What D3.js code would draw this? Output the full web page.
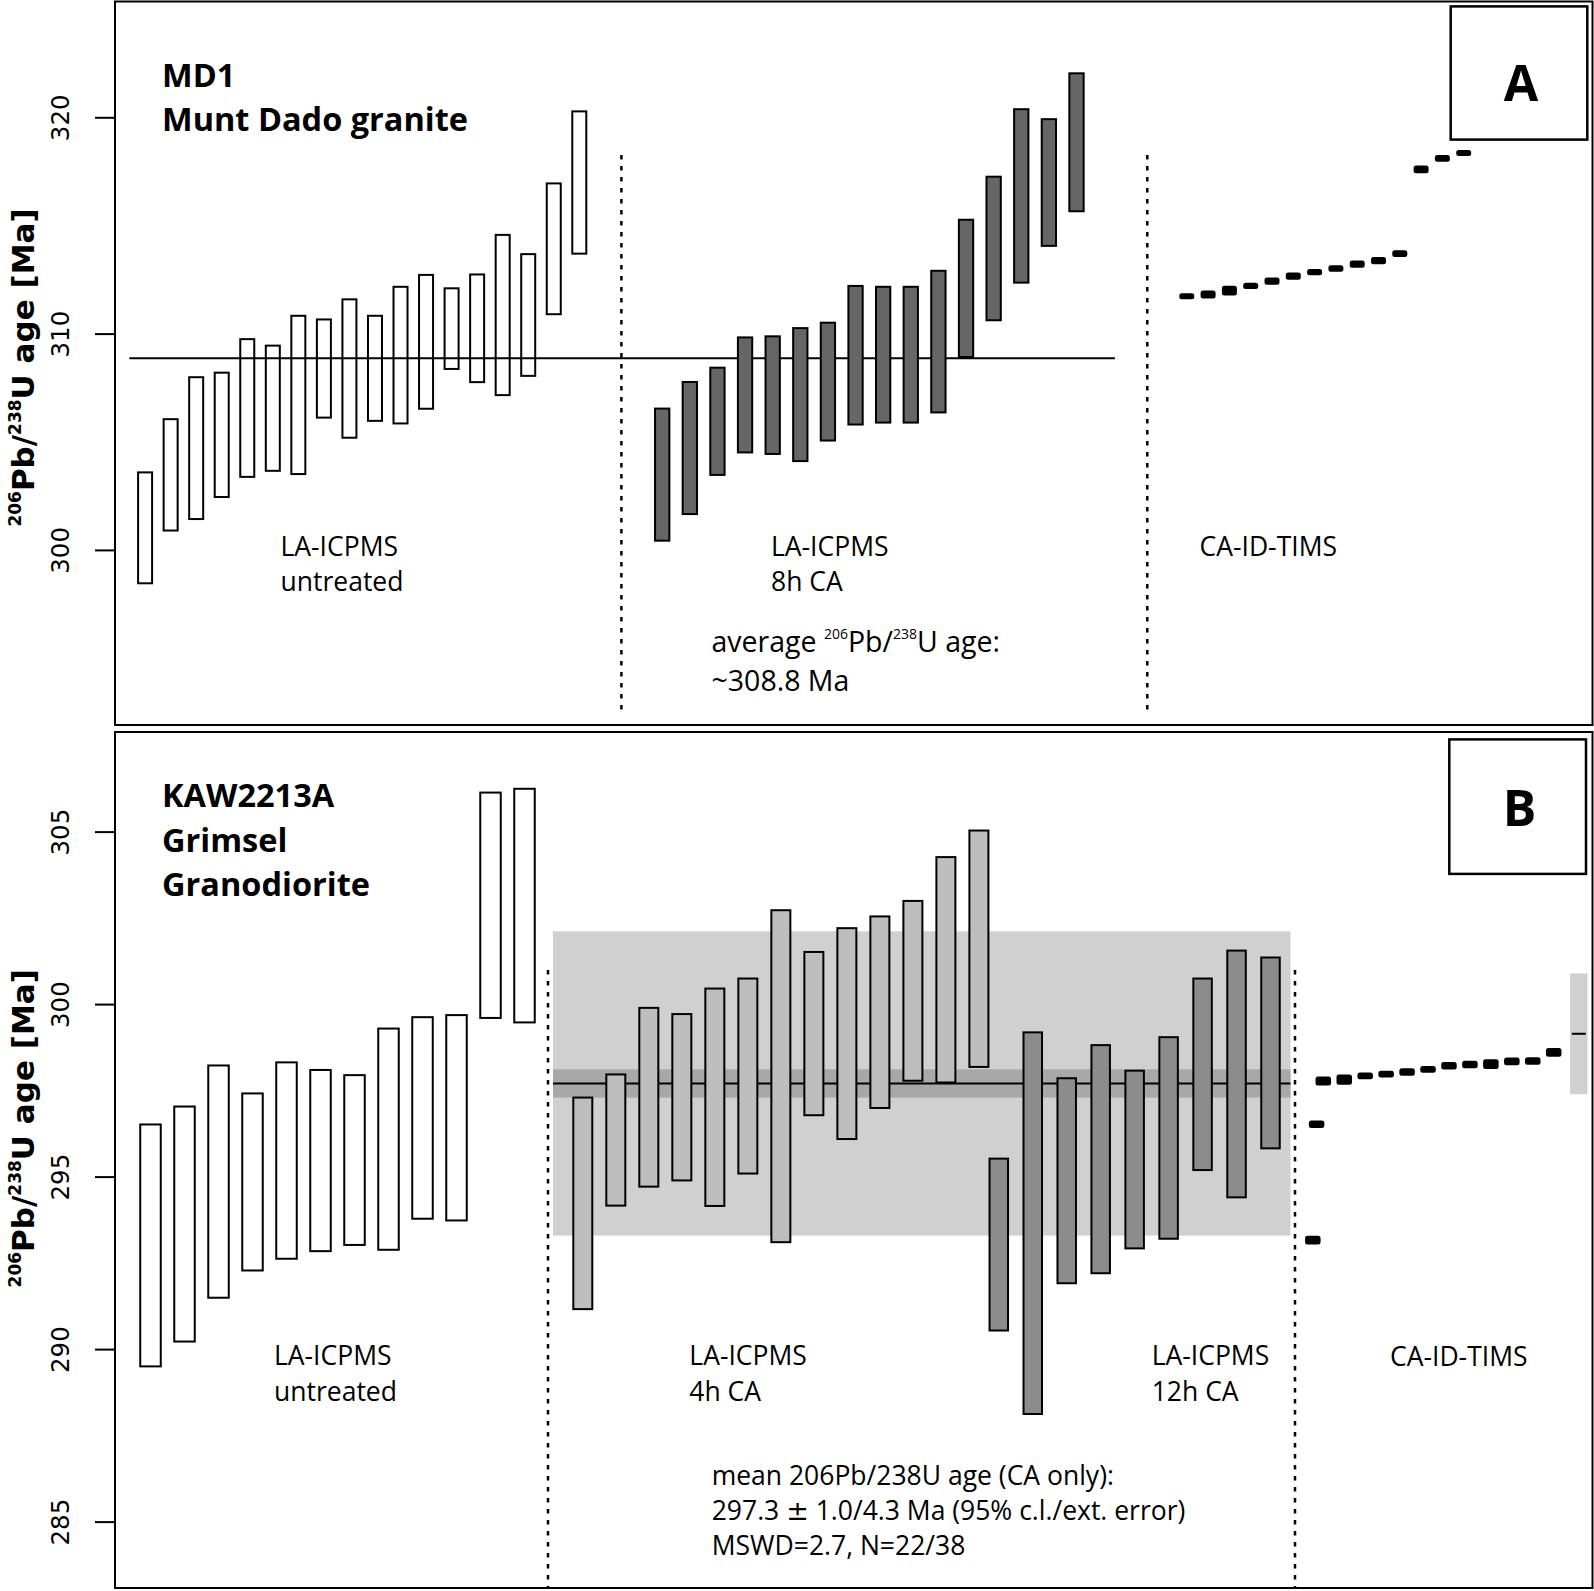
<!DOCTYPE html>
<html>
<head>
<meta charset="utf-8">
<script src="https://cdn.jsdelivr.net/npm/d3@7"></script>
<style>
  body { margin: 0; background: #fff; }
  svg { display: block; }
</style>
</head>
<body>
<svg id="chart" width="1594" height="1591"></svg>
<script>
// ================= DATA (ages in Ma) =================
// Panel A – MD1 Munt Dado granite
const aYTicks = [300, 310, 320];
const aUntreated = [[298.41,303.63],[300.85,306.09],[301.38,308.03],[302.40,308.24],[303.33,309.79],[303.61,309.49],
  [303.46,310.87],[306.07,310.70],[305.14,311.63],[305.92,310.87],[305.80,312.21],[306.48,312.76],
  [308.32,312.14],[307.71,312.78],[307.11,314.61],[308.00,313.72],[310.85,316.99],[313.65,320.32]];
const a8hCA = [[300.38,306.58],[301.61,307.81],[303.42,308.47],[304.46,309.87],[304.39,309.92],[304.06,310.30],
  [305.01,310.55],[305.75,312.25],[305.84,312.21],[305.84,312.21],[306.31,312.95],[308.87,315.31],
  [310.57,317.30],[312.31,320.42],[314.01,319.96],[315.61,322.08]];
const aTims = [311.73,311.81,311.99,312.21,312.43,312.66,312.84,313.01,313.21,313.37,313.70,317.59,318.10,318.35];
const aTimsErr = [0.09,0.14,0.18,0.10,0.12,0.12,0.10,0.10,0.12,0.12,0.11,0.13,0.11,0.09];
const aAverage = 308.86;

// Panel B – KAW2213A Grimsel Granodiorite
const bYTicks = [285, 290, 295, 300, 305];
const bUntreated = [[289.47,296.54],[290.19,297.06],[291.46,298.25],[292.25,297.44],[292.59,298.34],[292.81,298.12],
  [292.99,297.97],[292.85,299.32],[293.75,299.65],[293.70,299.71],[299.57,306.16],[299.44,306.27]];
const b4hCA = [[291.13,297.32],[294.13,297.99],[294.68,299.92],[294.86,299.74],[294.12,300.48],[295.06,300.77],
  [293.07,302.75],[296.75,301.54],[296.06,302.23],[296.96,302.57],[297.75,303.02],[297.70,304.29],[298.15,305.06]];
const b12hCA = [[290.51,295.55],[288.09,299.21],[291.88,297.88],[292.17,298.84],[292.89,298.10],[293.17,299.07],
  [295.16,300.77],[294.37,301.58],[295.79,301.38]];
const bTims = [293.16,296.52,297.77,297.81,297.92,297.97,298.03,298.11,298.21,298.25,298.26,298.34,298.35,298.60];
const bTimsErr = [0.10,0.08,0.10,0.12,0.07,0.07,0.08,0.07,0.08,0.08,0.11,0.08,0.08,0.10];
const bTimsSlot = [-0.5,-0.32,0,1,2,3,4,5,6,7,8,9,10,11];
const bMean = 297.70, bMeanInner = 0.41, bMeanOuter = 4.41;
const bTimsMean = 299.14, bTimsMeanErr = 1.75;

// ================= LAYOUT =================
const svg = d3.select("#chart");
const panelA = {x0: 115, x1: 1592.5, y0: 1.5, y1: 725};
const panelB = {x0: 115, x1: 1592.5, y0: 732, y1: 1588};
const yA = d3.scaleLinear().domain([300, 320]).range([549.9, 117.3]);
const yB = d3.scaleLinear().domain([285, 305]).range([1521.6, 831.6]);
const seq = (n, a, b) => d3.scaleLinear().domain([0, n - 1]).range([a, b]);

const LABEL_FONT = "'Open Sans', 'Noto Sans', sans-serif";
const AXIS_FONT = "'DejaVu Sans', sans-serif";

function bars(data, xs, y, w, fill) {
  svg.append("g").selectAll("rect").data(data).join("rect")
    .attr("x", (d, i) => xs(i) - w / 2)
    .attr("y", d => y(d[1]) + 1)
    .attr("width", w)
    .attr("height", d => y(d[0]) - y(d[1]) - 2)
    .attr("fill", fill)
    .attr("stroke", "#000")
    .attr("stroke-width", 2);
}
function dashes(vals, errs, xf, y, w) {
  svg.append("g").selectAll("rect").data(vals).join("rect")
    .attr("x", (d, i) => xf(i) - w / 2)
    .attr("y", (d, i) => y(d + errs[i]))
    .attr("width", w)
    .attr("height", (d, i) => Math.max(1, y(d - errs[i]) - y(d + errs[i])))
    .attr("rx", 1.5)
    .attr("fill", "#000")
    .attr("stroke", "#000")
    .attr("stroke-width", 2);
}
function vDotted(x, ya, yb) {
  svg.append("line").attr("x1", x).attr("x2", x).attr("y1", ya).attr("y2", yb)
    .attr("stroke", "#000").attr("stroke-width", 2.5).attr("stroke-dasharray", "4.5,6.5");
}
function hLine(xa, xb, yv, w) {
  svg.append("line").attr("x1", xa).attr("x2", xb).attr("y1", yv).attr("y2", yv)
    .attr("stroke", "#000").attr("stroke-width", w || 2);
}
// each line is its own <text> element
function lines(x, y0, arr, size, weight, lh) {
  arr.forEach((s, i) => {
    svg.append("text").attr("x", x).attr("y", y0 + i * lh)
      .attr("font-family", LABEL_FONT).attr("font-size", size)
      .attr("font-weight", weight || "normal").attr("fill", "#000").text(s);
  });
}
function axis(y, ticks, x0) {
  const g = svg.append("g").attr("transform", `translate(${x0},0)`)
    .call(d3.axisLeft(y).tickValues(ticks).tickSize(20).tickFormat(d3.format("d")));
  g.select(".domain").remove();
  g.attr("font-family", AXIS_FONT).attr("font-size", 24.5);
  g.selectAll(".tick line").attr("stroke", "#000").attr("stroke-width", 2);
  g.selectAll(".tick text").attr("x", 0).attr("dy", 0).attr("fill", "#000")
    .attr("text-anchor", "middle").attr("transform", "translate(-46,0) rotate(-90)");
}
function yTitle(cx, cy) {
  const t = svg.append("text").attr("transform", `translate(${cx},${cy}) rotate(-90)`)
    .attr("text-anchor", "middle").attr("font-family", AXIS_FONT).attr("font-weight", "bold")
    .attr("font-size", 31).attr("fill", "#000");
  t.append("tspan").attr("font-size", 17).attr("dy", -13).text("206");
  t.append("tspan").attr("dy", 13).text("Pb/");
  t.append("tspan").attr("font-size", 17).attr("dy", -13).text("238");
  t.append("tspan").attr("dy", 13).text("U age [Ma]");
}
function box(p) {
  svg.append("rect").attr("x", p.x0).attr("y", p.y0).attr("width", p.x1 - p.x0).attr("height", p.y1 - p.y0)
    .attr("fill", "none").attr("stroke", "#000").attr("stroke-width", 2);
}
function letterBox(x0, y0, x1, y1, letter, baseline) {
  svg.append("rect").attr("x", x0).attr("y", y0).attr("width", x1 - x0).attr("height", y1 - y0)
    .attr("fill", "#fff").attr("stroke", "#000").attr("stroke-width", 2.5);
  svg.append("text").attr("x", (x0 + x1) / 2 + 2).attr("y", baseline).attr("text-anchor", "middle")
    .attr("font-family", LABEL_FONT).attr("font-weight", "bold").attr("font-size", 50).text(letter);
}

// ================= PANEL A =================
hLine(129.3, 1114.9, yA(aAverage), 2);
bars(aUntreated, seq(aUntreated.length, 145.1, 579.3), yA, 14, "none");
bars(a8hCA, seq(a8hCA.length, 662.2, 1076.5), yA, 14.3, "#666666");
dashes(aTims, aTimsErr, seq(aTims.length, 1186.8, 1463.7), yA, 13);
vDotted(621.4, 155, 716);
vDotted(1147.3, 155, 716);
box(panelA);
axis(yA, aYTicks, panelA.x0);
yTitle(33.5, 367.5);
letterBox(1450.7, 6.4, 1587.3, 139.6, "A", 101);

lines(162, 87, ["MD1", "Munt Dado granite"], 32.5, "bold", 44);
lines(280.5, 556, ["LA-ICPMS", "untreated"], 26.5, "normal", 35);
lines(771, 556, ["LA-ICPMS", "8h CA"], 26.5, "normal", 35);
lines(1199.5, 556, ["CA-ID-TIMS"], 26.5, "normal", 35);
{
  const t = svg.append("text").attr("x", 711.5).attr("y", 651.5)
    .attr("font-family", LABEL_FONT).attr("font-size", 28.5).attr("fill", "#000");
  t.append("tspan").text("average ");
  t.append("tspan").attr("font-size", 14).attr("dy", -12.5).text("206");
  t.append("tspan").attr("dy", 12.5).text("Pb/");
  t.append("tspan").attr("font-size", 14).attr("dy", -12.5).text("238");
  t.append("tspan").attr("dy", 12.5).text("U age:");
  svg.append("text").attr("x", 711.5).attr("y", 690.5)
    .attr("font-family", LABEL_FONT).attr("font-size", 28.5).attr("fill", "#000").text("~308.8 Ma");
}

// ================= PANEL B =================
const bandX0 = 553, bandX1 = 1290.5;
svg.append("rect").attr("x", bandX0).attr("width", bandX1 - bandX0)
  .attr("y", yB(bMean + bMeanOuter)).attr("height", yB(bMean - bMeanOuter) - yB(bMean + bMeanOuter))
  .attr("fill", "#d0d0d0");
svg.append("rect").attr("x", bandX0).attr("width", bandX1 - bandX0)
  .attr("y", yB(bMean + bMeanInner)).attr("height", yB(bMean - bMeanInner) - yB(bMean + bMeanInner))
  .attr("fill", "#a8a8a8");
hLine(bandX0, bandX1, yB(bMean), 2);

bars(bUntreated, seq(bUntreated.length, 150.5, 524.5), yB, 20.5, "none");
bars(b4hCA, seq(b4hCA.length, 582.8, 978.9), yB, 19, "#bebebe");
bars(b12hCA, seq(b12hCA.length, 998.8, 1270.5), yB, 18.5, "#8c8c8c");
{
  const xt = d3.scaleLinear().domain([0, 11]).range([1323.3, 1553.7]);
  dashes(bTims, bTimsErr, i => xt(bTimsSlot[i]), yB, 13.5);
  const bx = xt(12.2);
  svg.append("rect").attr("x", bx - 8.7).attr("width", 17.4)
    .attr("y", yB(bTimsMean + bTimsMeanErr)).attr("height", yB(bTimsMean - bTimsMeanErr) - yB(bTimsMean + bTimsMeanErr))
    .attr("fill", "#d0d0d0");
  hLine(bx - 7, bx + 7, yB(bTimsMean), 2);
}
vDotted(548, 970, 1587);
vDotted(1295, 970, 1587);
box(panelB);
axis(yB, bYTicks, panelB.x0);
yTitle(33.5, 1128.3);
letterBox(1449.3, 739.4, 1586, 873.9, "B", 825.5);

lines(162, 807, ["KAW2213A", "Grimsel", "Granodiorite"], 32.5, "bold", 44.7);
lines(274, 1364.5, ["LA-ICPMS", "untreated"], 26.5, "normal", 36);
lines(689.3, 1364.5, ["LA-ICPMS", "4h CA"], 26.5, "normal", 36);
lines(1151.7, 1364.5, ["LA-ICPMS", "12h CA"], 26.5, "normal", 36);
lines(1390, 1365.5, ["CA-ID-TIMS"], 26.5, "normal", 36);
lines(711.7, 1485, ["mean 206Pb/238U age (CA only):"], 26.5, "normal", 34.8);
{
  const t = svg.append("text").attr("x", 711.7).attr("y", 1485 + 34.8)
    .attr("font-family", LABEL_FONT).attr("font-size", 26.5).attr("fill", "#000");
  t.append("tspan").text("297.3 ");
  t.append("tspan").attr("font-family", AXIS_FONT).attr("font-size", 27).text("\u00b1");
  t.append("tspan").text(" 1.0/4.3 Ma (95% c.l./ext. error)");
}
lines(711.7, 1485 + 2 * 34.8, ["MSWD=2.7, N=22/38"], 26.5, "normal", 34.8);
</script>
</body>
</html>
